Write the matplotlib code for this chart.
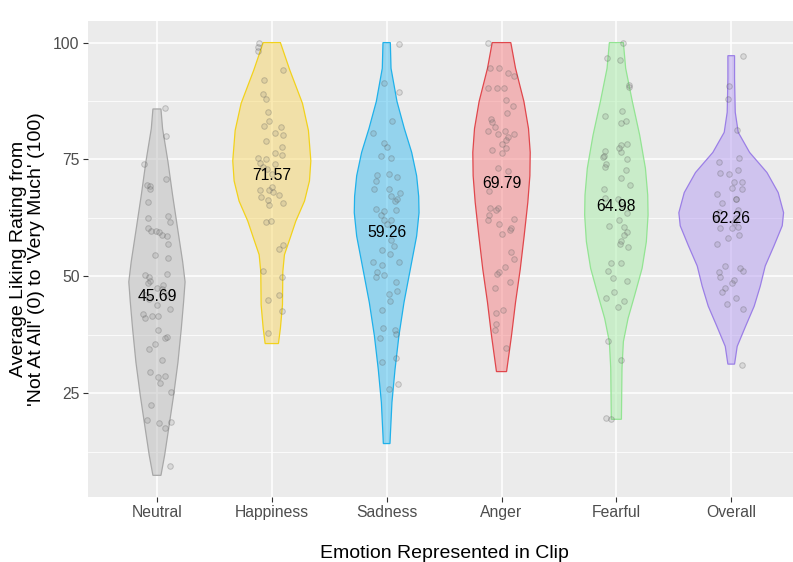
import numpy as np
import matplotlib
matplotlib.use("Agg")
import matplotlib.pyplot as plt

plt.rcParams["font.family"] = ["Liberation Sans", "DejaVu Sans"]

# -----------------------------
# Categories, colours and means
# -----------------------------
emotions = ["Neutral", "Happiness", "Sadness", "Anger", "Fearful", "Overall"]
mean_ratings = [45.69, 71.57, 59.26, 69.79, 64.98, 62.26]
edge_colors = ["#a8a8a8", "#f2d21c", "#1fb1ea", "#e0474c", "#93e493", "#9b7fe6"]
fill_colors = ["#bdbdbd", "#f8d767", "#3fbdf0", "#f57f82", "#a8eea8", "#b59cf2"]

# -----------------------------
# Violin outlines: rating levels and half-widths
# -----------------------------
neutral_level = [85.8, 81.6, 74.5, 67.4, 60.2, 53.1, 48.8, 44.5, 38.8, 31.6, 24.5, 17.4, 11.7, 7.4]
neutral_half = [0.035, 0.049, 0.096, 0.136, 0.180, 0.224, 0.245, 0.232, 0.212, 0.183, 0.145, 0.102, 0.067, 0.035]

happiness_level = [100.0, 94.1, 87.0, 81.2, 74.7, 70.4, 66.1, 61.8, 58.2, 54.6, 51.0, 43.9, 38.9, 35.6]
happiness_half = [0.075, 0.157, 0.267, 0.319, 0.340, 0.328, 0.285, 0.209, 0.160, 0.110, 0.096, 0.093, 0.075, 0.058]

sadness_level = [100.0, 94.5, 87.4, 81.6, 76.5, 71.5, 67.1, 63.6, 58.6, 51.5, 44.4, 37.3, 30.1, 23.0, 15.9, 14.2]
sadness_half = [0.032, 0.038, 0.090, 0.154, 0.218, 0.261, 0.279, 0.282, 0.261, 0.206, 0.151, 0.107, 0.073, 0.046, 0.032, 0.029]

anger_level = [100.0, 94.5, 87.4, 81.6, 76.5, 71.5, 65.8, 58.6, 51.5, 44.4, 37.3, 29.6]
anger_half = [0.081, 0.122, 0.195, 0.235, 0.250, 0.247, 0.229, 0.197, 0.163, 0.122, 0.087, 0.044]

fearful_level = [100.0, 94.5, 87.4, 80.2, 73.1, 67.4, 63.1, 57.4, 51.7, 46.0, 41.0, 36.0, 30.3, 19.4]
fearful_half = [0.061, 0.081, 0.139, 0.203, 0.253, 0.273, 0.276, 0.261, 0.224, 0.160, 0.102, 0.061, 0.049, 0.044]

overall_level = [97.2, 92.3, 85.1, 80.8, 76.5, 72.2, 67.9, 63.6, 60.8, 56.5, 52.2, 47.9, 43.6, 39.3, 35.0, 31.2]
overall_half = [0.029, 0.029, 0.035, 0.061, 0.160, 0.311, 0.409, 0.456, 0.444, 0.372, 0.296, 0.253, 0.200, 0.125, 0.052, 0.029]

# -----------------------------
# Individual clip ratings and their horizontal jitter
# -----------------------------
neutral_y = [85.9, 80.1, 74.1, 70.9, 69.5, 69.3, 68.6, 65.9, 62.9, 61.6, 62.4, 60.3, 59.6, 59.6,
             59.5, 58.8, 58.6, 56.9, 54.5, 54.0, 50.4, 50.2, 49.9, 48.9, 48.6, 48.1, 47.5, 47.2,
             45.9, 45.2, 45.9, 42.9, 43.9, 42.0, 41.1, 41.5, 41.4, 38.4, 36.7, 37.0, 35.6, 34.5,
             32.0, 29.6, 28.4, 28.6, 27.2, 25.2, 22.4, 19.2, 18.6, 17.5, 18.8, 9.4]
neutral_dx = [0.07, 0.08, -0.11, 0.08, -0.09, -0.06, -0.06, -0.08, 0.10, 0.11, -0.08, -0.08, -0.05, -0.01,
              0.02, 0.04, 0.09, 0.10, -0.02, 0.10, 0.09, -0.10, -0.07, -0.06, -0.08, 0.05, 0.00, 0.04,
              -0.10, -0.07, 0.09, 0.11, 0.00, -0.12, -0.10, -0.04, 0.01, 0.01, 0.07, 0.09, -0.02, -0.07,
              0.04, -0.06, 0.01, 0.07, 0.03, 0.12, -0.05, -0.09, 0.02, 0.07, 0.12, 0.11]

happiness_y = [99.9, 99.1, 98.1, 94.1, 92.1, 87.9, 89.1, 85.2, 83.3, 82.1, 81.9, 80.6, 80.2, 79.0,
               77.7, 76.4, 75.9, 75.4, 75.0, 74.3, 74.0, 73.4, 72.9, 71.9, 68.4, 68.4, 69.1, 68.1,
               67.4, 67.0, 66.3, 65.7, 65.2, 61.6, 61.8, 55.9, 56.6, 51.1, 49.9, 45.9, 44.9, 42.6, 37.9]
happiness_dx = [-0.11, -0.12, -0.12, 0.10, -0.07, -0.05, -0.08, -0.03, -0.02, -0.07, 0.08, 0.03, 0.10, -0.05,
                0.09, 0.03, 0.09, -0.12, -0.05, -0.10, 0.03, -0.08, -0.04, 0.00, -0.10, -0.02, 0.00, 0.01,
                0.06, -0.09, -0.03, 0.10, -0.02, -0.05, -0.01, 0.06, 0.10, -0.08, 0.09, 0.06, -0.03, 0.09, -0.03]

sadness_y = [99.8, 91.4, 89.5, 83.3, 80.7, 78.6, 77.7, 75.8, 75.3, 71.6, 71.8, 71.3, 70.4, 68.6,
             68.6, 67.2, 67.9, 66.1, 66.5, 64.4, 64.0, 63.1, 62.0, 64.2, 62.1, 61.1, 57.7, 56.4,
             55.6, 54.8, 53.1, 52.5, 53.1, 50.9, 49.9, 50.2, 48.7, 46.3, 46.8, 44.7, 42.7, 39.0,
             36.8, 38.6, 37.7, 32.5, 31.6, 27.0, 25.8]
sadness_dx = [0.11, -0.02, 0.11, 0.05, -0.12, -0.02, 0.00, -0.05, 0.04, -0.08, 0.02, 0.09, -0.09, -0.11,
              0.02, 0.04, 0.12, 0.07, 0.09, -0.09, -0.02, -0.05, -0.02, 0.08, 0.04, 0.00, 0.04, 0.06,
              -0.04, 0.03, -0.12, -0.04, 0.11, -0.08, -0.09, -0.02, 0.08, 0.02, 0.09, 0.03, -0.04, -0.03,
              -0.06, 0.07, 0.08, 0.08, -0.04, 0.10, 0.02]

anger_y = [99.9, 94.6, 94.5, 93.4, 92.9, 90.2, 90.2, 90.2, 87.7, 86.5, 84.9, 83.6, 83.1, 82.0,
           81.1, 80.4, 81.1, 80.4, 79.8, 79.1, 78.4, 77.1, 77.4, 76.3, 73.1, 72.6, 68.2, 64.6,
           64.6, 64.1, 63.1, 62.0, 62.2, 61.1, 60.4, 60.0, 59.1, 55.1, 53.6, 51.9, 50.9, 50.4,
           48.8, 47.4, 42.7, 42.1, 39.7, 38.4, 34.6]
anger_dx = [-0.12, -0.10, -0.02, 0.06, 0.11, -0.12, -0.04, 0.02, 0.04, 0.10, 0.05, -0.09, -0.08, -0.06,
            -0.12, -0.03, 0.03, 0.11, 0.06, 0.04, 0.00, -0.08, 0.04, 0.00, -0.03, 0.06, -0.11, -0.10,
            -0.03, -0.05, -0.11, -0.12, 0.11, -0.02, 0.08, 0.07, 0.00, 0.08, 0.11, 0.03, -0.02, -0.04,
            0.07, -0.06, 0.01, -0.05, -0.05, -0.06, 0.04]

fearful_y = [99.9, 96.6, 96.3, 90.9, 90.6, 84.3, 85.3, 82.8, 83.2, 78.1, 78.2, 77.4, 76.8, 75.8,
             76.6, 75.6, 74.1, 73.4, 75.1, 72.7, 71.1, 69.6, 68.6, 66.8, 66.6, 65.2, 63.6, 62.0,
             60.8, 60.6, 59.4, 58.8, 57.5, 56.8, 56.3, 52.8, 52.8, 51.1, 49.6, 48.9, 46.6, 45.4,
             44.7, 43.4, 36.1, 32.0, 19.6, 19.5]
fearful_dx = [0.06, -0.08, 0.03, 0.11, 0.11, -0.10, 0.05, 0.04, 0.08, 0.04, 0.09, 0.02, -0.10, -0.11,
              0.04, -0.12, -0.09, -0.10, 0.09, 0.08, 0.04, 0.12, -0.11, -0.10, 0.01, 0.05, 0.09, 0.02,
              -0.06, 0.07, 0.09, 0.07, 0.04, 0.03, 0.10, -0.05, 0.04, -0.07, -0.03, 0.09, -0.02, -0.09,
              0.07, 0.01, -0.07, 0.04, -0.09, -0.05]

overall_y = [97.2, 90.8, 87.9, 81.3, 74.4, 75.3, 72.2, 71.8, 72.7, 70.2, 70.1, 68.8, 68.6, 67.5,
             66.5, 65.6, 66.5, 63.8, 64.1, 62.4, 62.5, 61.6, 60.3, 60.3, 60.6, 58.2, 58.9, 56.8,
             52.2, 51.8, 51.1, 50.9, 49.9, 49.3, 48.6, 47.4, 46.6, 45.4, 44.1, 43.1, 31.1]
overall_dx = [0.10, -0.02, -0.03, 0.05, -0.11, 0.07, -0.10, -0.02, 0.06, 0.02, 0.09, 0.01, 0.09, -0.12,
              0.04, -0.08, 0.04, -0.11, 0.06, -0.12, 0.04, 0.02, -0.10, 0.01, 0.06, -0.03, 0.07, -0.12,
              -0.05, 0.08, 0.10, -0.11, -0.10, 0.02, 0.01, -0.05, -0.08, 0.04, -0.04, 0.10, 0.09]

levels = [neutral_level, happiness_level, sadness_level, anger_level, fearful_level, overall_level]
halves = [neutral_half, happiness_half, sadness_half, anger_half, fearful_half, overall_half]
ratings = [neutral_y, happiness_y, sadness_y, anger_y, fearful_y, overall_y]
jitters = [neutral_dx, happiness_dx, sadness_dx, anger_dx, fearful_dx, overall_dx]

# -----------------------------
# Figure and panel
# -----------------------------
fig = plt.figure(figsize=(7.93, 5.62), dpi=100)
ax = fig.add_axes([0.111, 0.1157, 0.898, 0.847])
ax.set_facecolor("#ebebeb")

for i, (lev, hw, col, fc) in enumerate(zip(levels, halves, edge_colors, fill_colors), start=1):
    lev = np.array(lev)
    hw = np.array(hw)
    xs = np.concatenate([i + hw, (i - hw)[::-1]])
    ys = np.concatenate([lev, lev[::-1]])
    ax.fill(xs, ys, facecolor=fc, alpha=0.5, edgecolor="none", zorder=2)
    ax.fill(xs, ys, facecolor="none", edgecolor=col, linewidth=0.9, zorder=3)

for i, (ys, dx) in enumerate(zip(ratings, jitters), start=1):
    ax.scatter(i + np.array(dx), ys, s=16, facecolor=(0.45, 0.45, 0.45, 0.15),
               edgecolor=(0.35, 0.35, 0.35, 0.3), linewidth=0.7, zorder=4)

for i, m in enumerate(mean_ratings, start=1):
    ax.text(i, m, f"{m:.2f}", ha="center", va="center", fontsize=11.3, color="black", zorder=5)

# ggplot-like limits: categories padded by 0.6, ratings expanded 5%
lo = min(min(l) for l in levels)
hi = max(max(l) for l in levels)
pad = 0.05 * (hi - lo)
ax.set_ylim(lo - pad, hi + pad)
ax.set_xlim(0.4, len(emotions) + 0.6)

ax.set_xticks(range(1, len(emotions) + 1))
ax.set_xticklabels(emotions)
ax.set_yticks([25, 50, 75, 100])
ax.set_yticks([12.5, 37.5, 62.5, 87.5], minor=True)

ax.grid(which="major", color="white", linewidth=1.1, zorder=0)
ax.grid(which="minor", axis="y", color="white", linewidth=0.55, zorder=0)
ax.set_axisbelow(True)
for s in ax.spines.values():
    s.set_visible(False)

ax.tick_params(which="major", length=3.5, width=0.8, color="#333333",
               labelcolor="#4d4d4d", labelsize=11.3, pad=2.5)
ax.tick_params(which="minor", length=0)

ax.set_xlabel("Emotion Represented in Clip", fontsize=14, labelpad=18)
ax.set_ylabel("Average Liking Rating from\n'Not At All' (0) to 'Very Much' (100)",
              fontsize=14, labelpad=6, linespacing=1.05)

fig.savefig("out.png", dpi=100)
